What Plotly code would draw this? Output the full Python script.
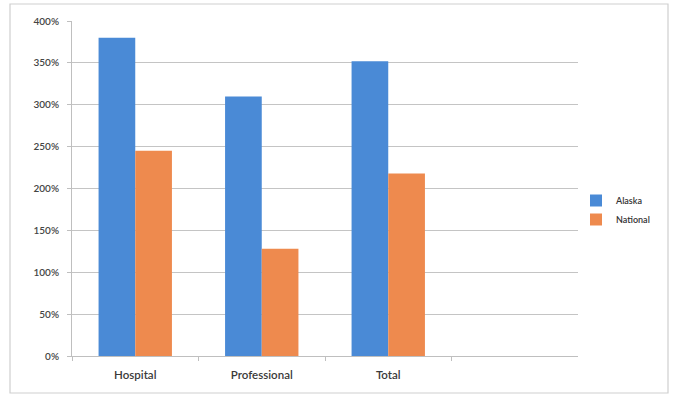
import plotly.graph_objects as go

categories = ["Hospital", "Professional", "Total"]
alaska = [380, 310, 352]
national = [245, 128, 218]
y_ticks = [0, 50, 100, 150, 200, 250, 300, 350, 400]
y_tick_labels = [f"{v}%" for v in y_ticks]

blue = "#4A8AD6"
orange = "#EE8A4E"
font = "Lato, 'Open Sans', sans-serif"

fig = go.Figure()
fig.add_trace(go.Bar(name="Alaska", x=categories, y=alaska, marker_color=blue,
                     marker_line_width=0))
fig.add_trace(go.Bar(name="National", x=categories, y=national, marker_color=orange,
                     marker_line_width=0))

L, R, T, B = 72, 95, 21, 41
W, H = 673, 397
pw, ph = W - L - R, H - T - B

def px(x):
    return (x - L) / pw

def py(y):
    return (H - B - y) / ph

fig.update_layout(
    width=W, height=H,
    margin=dict(l=L, r=R, t=T, b=B, pad=0),
    paper_bgcolor="white", plot_bgcolor="white",
    barmode="group", bargap=0.42, bargroupgap=0,
    font=dict(family=font, size=10, color="#333333"),
    showlegend=True,
    legend=dict(x=px(576), y=py(210), xanchor="left", yanchor="middle",
                font=dict(size=9, color="#333333", weight=600), itemwidth=30,
                tracegroupgap=2, bgcolor="rgba(0,0,0,0)"),
    xaxis=dict(range=[-0.5, 3.5], type="category", categoryarray=categories,
               showline=True, linecolor="#BFBFBF", linewidth=1,
               ticks="outside", tickson="boundaries", ticklen=4, tickcolor="#BFBFBF",
               ticklabelstandoff=8,
               showgrid=False, tickfont=dict(size=11.5, color="#3a3a3a", weight=600)),
    yaxis=dict(range=[0, 400], tickvals=y_ticks, ticktext=y_tick_labels,
               showline=True, linecolor="#BFBFBF", linewidth=1,
               ticks="outside", ticklen=4, tickcolor="#BFBFBF",
               ticklabelstandoff=6,
               showgrid=True, gridcolor="#C4C4C4", gridwidth=1,
               zeroline=False, tickfont=dict(size=10, color="#444444", weight=600)),
    shapes=[dict(type="rect", xref="paper", yref="paper",
                 x0=px(10), x1=px(668), y0=py(393), y1=py(4),
                 line=dict(color="#CFCFCF", width=1.2), layer="below")],
)

fig.write_html("out.html")
